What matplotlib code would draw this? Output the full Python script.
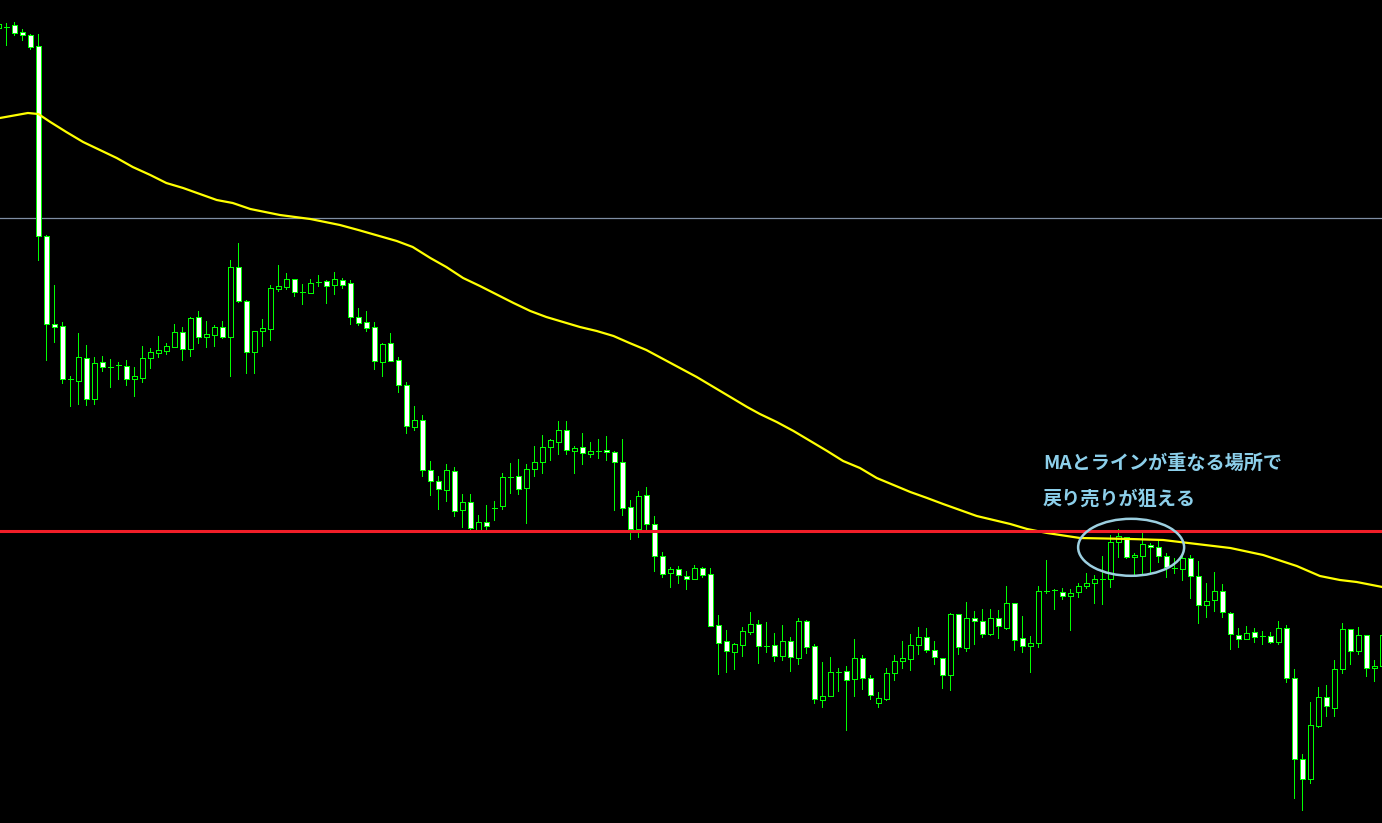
import numpy as np
import matplotlib.pyplot as plt
from matplotlib.patches import Ellipse

# bar index, -1 is the bar cut off at the left edge
bars = np.arange(-1, 173)

opens = [795, 796, 798, 791, 788, 777, 587, 499, 497, 444,
         442, 465, 424, 461, 456, 458, 457, 444, 445, 465,
         470, 472, 476, 491, 474, 506, 486, 488, 496, 486,
         556, 522, 471, 492, 494, 534, 536, 544, 531, 530,
         541, 542, 538, 543, 540, 506, 501, 496, 461, 480,
         463, 438, 396, 403, 353, 342, 333, 352, 313, 321,
         293, 301, 315, 317, 346, 347, 335, 354, 361, 376,
         381, 393, 372, 376, 369, 372, 373, 371, 361, 316,
         294, 328, 299, 267, 250, 254, 247, 244, 255, 249,
         198, 182, 171, 178, 191, 199, 177, 178, 167, 182,
         165, 202, 177, 123, 127, 151, 152, 144, 165, 145,
         120, 124, 150, 162, 164, 178, 186, 173, 165, 148,
         209, 175, 205, 202, 189, 205, 195, 220, 185, 177,
         180, 232, 233, 231, 227, 231, 237, 240, 244, 244,
         281, 286, 266, 267, 278, 276, 267, 255, 254, 265,
         247, 218, 223, 232, 210, 188, 184, 191, 187, 187,
         181, 195, 145, 64, 44, 97, 126, 115, 154, 194,
         172, 188, 155, 157]

highs = [800, 800, 801, 794, 789, 789, 588, 538, 501, 447,
         490, 478, 466, 467, 464, 461, 463, 456, 477, 475,
         487, 480, 499, 496, 506, 512, 502, 498, 502, 563,
         580, 523, 492, 504, 538, 558, 550, 544, 539, 544,
         548, 543, 551, 545, 543, 515, 512, 501, 480, 490,
         466, 441, 417, 408, 362, 347, 359, 356, 329, 329,
         308, 318, 322, 350, 360, 364, 359, 377, 388, 384,
         402, 402, 377, 390, 381, 384, 387, 372, 384, 323,
         332, 336, 307, 271, 256, 257, 252, 258, 256, 255,
         208, 193, 180, 196, 211, 203, 201, 190, 198, 186,
         205, 203, 179, 161, 166, 155, 157, 184, 168, 148,
         131, 155, 168, 182, 189, 196, 195, 182, 165, 210,
         209, 221, 212, 214, 214, 213, 237, 220, 207, 187,
         237, 263, 234, 235, 234, 240, 250, 248, 267, 288,
         294, 286, 270, 290, 280, 283, 270, 265, 268, 268,
         262, 240, 251, 239, 211, 195, 197, 195, 192, 191,
         202, 198, 154, 69, 121, 136, 138, 163, 200, 194,
         196, 188, 163, 196]

lows = [793, 778, 788, 783, 774, 563, 463, 481, 440, 417,
        419, 418, 419, 452, 436, 444, 438, 427, 441, 455,
        466, 469, 476, 463, 467, 480, 476, 477, 485, 447,
        521, 450, 450, 477, 483, 532, 534, 527, 519, 530,
        537, 520, 529, 535, 499, 498, 492, 454, 447, 462,
        431, 390, 393, 347, 328, 314, 322, 307, 296, 293,
        293, 293, 303, 314, 330, 329, 300, 347, 350, 363,
        369, 369, 350, 359, 366, 365, 363, 313, 308, 284,
        286, 293, 252, 246, 236, 240, 234, 244, 246, 197,
        149, 151, 154, 167, 189, 160, 171, 162, 163, 152,
        159, 170, 120, 116, 127, 132, 93, 127, 134, 124,
        116, 123, 143, 155, 153, 169, 171, 159, 135, 133,
        169, 172, 179, 186, 188, 185, 194, 173, 171, 151,
        176, 230, 214, 224, 193, 226, 235, 220, 219, 236,
        266, 265, 249, 250, 251, 261, 246, 250, 243, 225,
        200, 206, 212, 206, 174, 176, 184, 181, 179, 180,
        179, 141, 25, 13, 40, 96, 107, 107, 150, 159,
        169, 147, 142, 155]

closes = [799, 796, 790, 788, 776, 587, 499, 496, 444, 444,
          466, 424, 460, 456, 456, 458, 444, 447, 465, 471,
          473, 477, 491, 474, 505, 486, 489, 496, 486, 556,
          522, 471, 492, 495, 535, 537, 544, 531, 531, 540,
          541, 537, 544, 538, 506, 500, 495, 462, 479, 462,
          438, 397, 403, 353, 342, 334, 353, 312, 321, 295,
          301, 297, 315, 346, 346, 334, 354, 361, 376, 383,
          393, 373, 375, 370, 372, 372, 371, 361, 315, 294,
          327, 299, 267, 249, 254, 248, 244, 255, 248, 197,
          180, 172, 179, 192, 199, 177, 177, 167, 182, 166,
          202, 176, 124, 127, 151, 151, 143, 165, 145, 128,
          125, 150, 162, 165, 178, 186, 173, 166, 148, 209,
          176, 205, 202, 189, 205, 197, 220, 183, 177, 180,
          232, 232, 233, 227, 230, 237, 240, 244, 244, 281,
          287, 266, 268, 279, 276, 267, 256, 255, 265, 247,
          218, 222, 232, 211, 189, 184, 190, 186, 187, 181,
          195, 145, 64, 44, 98, 126, 117, 154, 194, 172,
          188, 155, 157, 188]

# moving average, read at bar positions
ma_x = [-0.8, 2.7, 4.0, 5.5, 7.5, 9.6, 11.7, 13.8, 15.8, 18.0,
        20.0, 22.1, 24.2, 26.3, 28.3, 30.5, 34.2, 38.0, 41.7, 44.0,
        48.8, 50.8, 53.0, 55.0, 57.1, 59.2, 63.4, 65.5, 67.5, 69.6,
        71.7, 73.8, 75.9, 77.9, 80.0, 82.1, 84.2, 86.3, 88.4, 90.5,
        92.6, 94.2, 96.3, 98.4, 100.5, 102.6, 104.6, 106.7, 108.8, 110.9,
        113.0, 115.1, 117.1, 119.2, 121.3, 123.4, 125.5, 127.6, 130.1, 134.2,
        140.5, 144.6, 148.8, 153.0, 157.1, 161.3, 164.2, 166.7, 168.8, 172.0]
ma_y = [705, 710, 709, 701, 691, 681, 673, 665, 656, 648,
        640, 635, 629, 623, 620, 614, 608, 604, 598, 593,
        582, 576, 565, 556, 545, 537, 520, 512, 506, 501,
        496, 492, 487, 480, 473, 464, 455, 446, 436, 426,
        416, 409, 401, 392, 382, 372, 362, 355, 345, 338,
        331, 325, 319, 313, 307, 303, 299, 294, 290, 285,
        284, 283, 279, 275, 268, 257, 247, 243, 241, 236]

red_level = 292
grey_level = 605

note1 = 'MAとラインが重なる場所で'
note2 = '戻り売りが狙える'

opens = np.array(opens)
closes = np.array(closes)

fig = plt.figure(figsize=(13.82, 8.23), dpi=100, facecolor='black')
ax = fig.add_axes([0, 0, 1, 1])
ax.set_facecolor('black')
ax.set_xlim(-0.79, 171.96)
ax.set_ylim(0, 823)
ax.axis('off')

ax.axhline(grey_level, color='#7f8ea3', lw=0.9, zorder=1)

# wicks then bodies (bear = white body, bull = black body)
ax.vlines(bars, lows, highs, color='#00ff00', lw=0.72, zorder=2, antialiased=False)
body_col = np.where(closes < opens, 'white', 'black')
ax.bar(bars, closes - opens, bottom=opens, width=0.55, color=body_col,
       edgecolor='#00ff00', linewidth=0.72, zorder=3, antialiased=False)

ax.plot(ma_x, ma_y, color='#ffff00', lw=1.6, zorder=4)
ax.axhline(red_level, color='#f01e28', lw=2.2, zorder=5)

ax.add_patch(Ellipse((140.6, 275.7), 13.25, 57, fill=False,
                     edgecolor='#9ccfe0', lw=1.8, zorder=6))

fnt = ['Noto Sans CJK JP', 'DejaVu Sans']
ax.text(129.6, 360, note1, color='#8ccfea', fontsize=13.8, family=fnt,
        weight='bold', va='center', ha='left', zorder=7)
ax.text(129.6, 324, note2, color='#8ccfea', fontsize=13.8, family=fnt,
        weight='bold', va='center', ha='left', zorder=7)

fig.savefig('out.png', dpi=100, facecolor='black')
